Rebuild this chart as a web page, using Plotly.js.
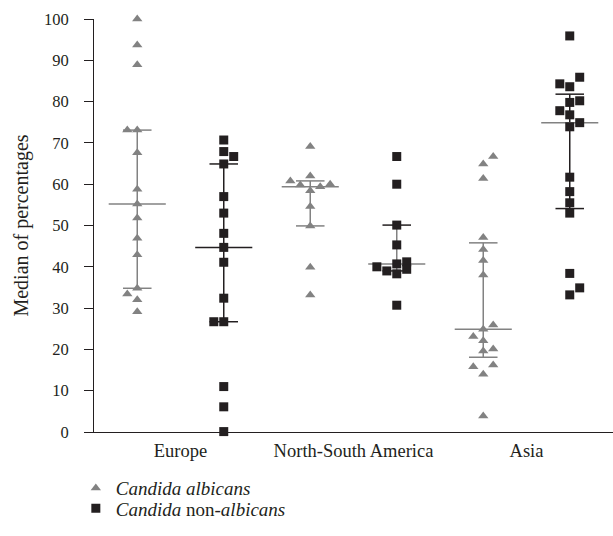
<!DOCTYPE html>
<html>
<head>
<meta charset="utf-8">
<script src="https://cdn.plot.ly/plotly-3.0.1.min.js"></script>
<style>html,body{margin:0;padding:0;background:#fff;}#chart{width:613px;height:536px;}</style>
</head>
<body>
<div id="chart"></div>
<script>
// ---- Data ----
const groups = ['Europe', 'North-South America', 'Asia'];

const albEurope = [100, 93.7, 88.9, 73.1, 73.1, 67.6, 58.8, 55.2, 51.8, 46.9, 42.9, 34.8, 33.4, 32.0, 29.1];
const albEuropeSlot = [0, 0, 0, -1, 0, 0, 0, 0, 0, 0, 0, 0, -1, 0, 0];
const nonEurope = [70.7, 67.9, 66.7, 64.9, 57.0, 53.0, 48.1, 44.7, 41.1, 32.4, 26.7, 26.7, 11.0, 6.1, 0.1];
const nonEuropeSlot = [0, 0, 1, 0, 0, 0, 0, 0, 0, 0, -1, 0, 0, 0, 0];

const albNSA = [69.1, 62.0, 60.8, 60.0, 59.8, 59.4, 58.4, 54.6, 49.9, 39.9, 33.2];
const albNSASlot = [0, 0, -2, 2, -1, 1, 0, 0, 0, 0, 0];
const nonNSA = [66.7, 60.0, 50.1, 45.3, 41.2, 40.7, 40.0, 39.4, 39.0, 38.3, 30.7];
const nonNSASlot = [0, 0, 0, 0, 1, 0, -2, 1, -1, 0, 0];

const albAsia = [66.7, 64.9, 61.4, 47.1, 44.2, 41.5, 38.0, 25.9, 24.9, 23.1, 22.1, 20.1, 19.6, 16.2, 15.8, 14.0, 3.9];
const albAsiaSlot = [1, 0, 0, 0, 0, 0, 0, 1, 0, -1, 0, 1, 0, 1, -1, 0, 0];
const nonAsia = [95.9, 85.9, 84.3, 83.6, 80.2, 79.8, 77.8, 76.8, 74.9, 73.9, 61.7, 58.2, 55.5, 53.0, 38.4, 34.9, 33.2];
const nonAsiaSlot = [0, 1, -1, 0, 1, 0, -1, 0, 1, 0, 0, 0, 0, 0, 0, 1, 0];

// quartile summaries per group [Europe, NSA, Asia]
const albQ1 = [34.8, 49.9, 18.1];
const albMedian = [55.2, 59.4, 24.9];
const albQ3 = [73.1, 60.8, 45.8];
const nonQ1 = [26.7, 39.0, 54.1];
const nonMedian = [44.7, 40.7, 74.9];
const nonQ3 = [64.9, 50.1, 81.8];

// ---- styling ----
const GRAY = '#828282';
const BLACK = '#231f20';
const nonStemColor = [BLACK, GRAY, BLACK];
const nonMedianColor = [BLACK, GRAY, GRAY];
const SLOT = 0.115, QHW = 0.165, MHW = 0.33;
const FONT = 'Liberation Serif, Times New Roman, serif';

const albSets = [[albEurope, albEuropeSlot], [albNSA, albNSASlot], [albAsia, albAsiaSlot]];
const nonSets = [[nonEurope, nonEuropeSlot], [nonNSA, nonNSASlot], [nonAsia, nonAsiaSlot]];

function pts(sets, off) {
  const xs = [], ys = [];
  sets.forEach(([vals, slots], g) => {
    const base = 2 * g + off;
    vals.forEach((v, i) => { xs.push(base + slots[i] * SLOT); ys.push(v); });
  });
  return {x: xs, y: ys};
}

const traces = [];
function seg(x0, x1, y0, y1, color) {
  traces.push({type: 'scatter', mode: 'lines', x: [x0, x1], y: [y0, y1],
    line: {color: color, width: 1.5}, showlegend: false, hoverinfo: 'skip', cliponaxis: false});
}
groups.forEach((g, i) => {
  const a = 2 * i + 1, n = 2 * i + 2;
  seg(a, a, albQ1[i], albQ3[i], GRAY);
  seg(a - QHW, a + QHW, albQ1[i], albQ1[i], GRAY);
  seg(a - QHW, a + QHW, albQ3[i], albQ3[i], GRAY);
  seg(a - MHW, a + MHW, albMedian[i], albMedian[i], GRAY);
  seg(n, n, nonQ1[i], nonQ3[i], nonStemColor[i]);
  seg(n - QHW, n + QHW, nonQ1[i], nonQ1[i], BLACK);
  seg(n - QHW, n + QHW, nonQ3[i], nonQ3[i], BLACK);
  seg(n - MHW, n + MHW, nonMedian[i], nonMedian[i], nonMedianColor[i]);
});

const pa = pts(albSets, 1), pn = pts(nonSets, 2);
traces.push({type: 'scatter', mode: 'markers', x: pa.x, y: pa.y, name: '<i>Candida albicans</i>',
  marker: {symbol: 'triangle-up', size: 9, color: GRAY}, cliponaxis: false, legend: 'legend'});
traces.push({type: 'scatter', mode: 'markers', x: pn.x, y: pn.y, name: '<i>Candida</i> non-<i>albicans</i>',
  marker: {symbol: 'square', size: 9, color: BLACK}, cliponaxis: false, legend: 'legend2'});

const legendBase = {x: -0.035, xanchor: 'left', yanchor: 'top', font: {size: 19, family: FONT, color: BLACK},
  bgcolor: 'rgba(0,0,0,0)', itemwidth: 30};

const layout = {
  width: 613, height: 536,
  margin: {l: 94, r: 0, t: 19, b: 104},
  paper_bgcolor: '#fff', plot_bgcolor: '#fff',
  font: {family: FONT, color: BLACK, size: 16},
  showlegend: true,
  legend: Object.assign({}, legendBase, {y: -0.09}),
  legend2: Object.assign({}, legendBase, {y: -0.139}),
  xaxis: {range: [0.5, 6.5], showgrid: false, zeroline: false, showline: true, linecolor: BLACK, linewidth: 1,
    ticks: '', tickvals: groups.map((g, i) => 2 * i + 1.5), ticktext: groups, ticklabelstandoff: 2,
    tickfont: {size: 18.5, family: FONT}, fixedrange: true},
  yaxis: {range: [0, 100], dtick: 10, showgrid: false, zeroline: false, showline: true, linecolor: BLACK, linewidth: 1,
    ticks: 'outside', ticklen: 9, tickcolor: BLACK, tickwidth: 1, ticklabelstandoff: 12,
    tickfont: {size: 16.5, family: FONT},
    title: {text: 'Median of percentages', font: {size: 20, family: FONT}, standoff: 9}, fixedrange: true}
};

Plotly.newPlot('chart', traces, layout, {displayModeBar: false, staticPlot: true});
</script>
</body>
</html>
